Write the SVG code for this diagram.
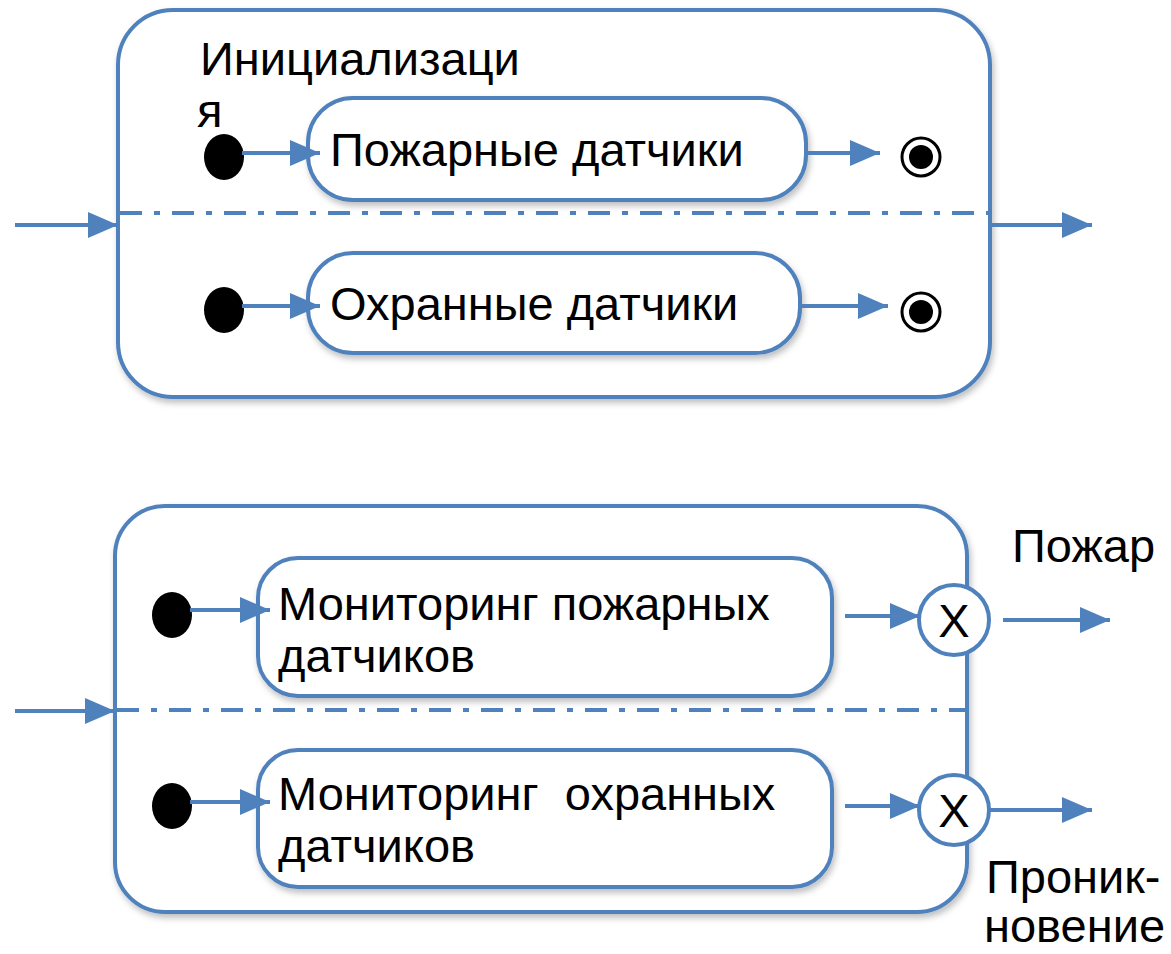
<svg xmlns="http://www.w3.org/2000/svg" width="1171" height="954" viewBox="0 0 1171 954">
<defs>
<style>
.box{fill:#fff;stroke:#4F81BD;stroke-width:4;filter:url(#sh)}
.ln{stroke:#4F81BD;stroke-width:4;fill:none}
.dd{stroke:#4F81BD;stroke-width:4;fill:none;stroke-dasharray:22 12 6 12}
.arr{stroke:#4F81BD;stroke-width:4;fill:none;marker-end:url(#ah)}
.t{font-family:"Liberation Sans",Arial,sans-serif;font-size:47px;fill:#000}
</style>
<filter id="sh" x="-10%" y="-10%" width="120%" height="130%">
<feDropShadow dx="2" dy="4" stdDeviation="3" flood-color="#000" flood-opacity="0.25"/>
</filter>
<marker id="ah" markerUnits="userSpaceOnUse" markerWidth="32" markerHeight="26" refX="30" refY="13" orient="auto">
<path d="M0,0 L30,13 L0,26 Z" fill="#4F81BD"/>
</marker>
</defs>
<g id="container-init">
<rect class="box" x="118" y="10" width="872" height="387" rx="55"/>
<text class="t" x="200" y="75">Инициализаци</text>
<text class="t" x="197" y="127">я</text>
<line class="dd" x1="120" y1="213" x2="988" y2="213"/>
</g>
<g id="init-fire">
<rect class="box" x="308" y="98" width="498" height="102" rx="45"/>
<text class="t" x="330" y="166">Пожарные датчики</text>
</g>
<g id="init-security">
<rect class="box" x="308" y="253" width="492" height="100" rx="45"/>
<text class="t" x="330" y="320">Охранные датчики</text>
</g>
<g id="start1"><ellipse cx="224" cy="157" rx="20" ry="23" fill="#000"/></g>
<g id="start2"><ellipse cx="224" cy="310" rx="20" ry="23" fill="#000"/></g>
<g id="end1"><circle cx="921" cy="157" r="19" fill="#fff" stroke="#000" stroke-width="3"/><circle cx="921" cy="157" r="12" fill="#000"/></g>
<g id="end2"><circle cx="921" cy="312" r="19" fill="#fff" stroke="#000" stroke-width="3"/><circle cx="921" cy="312" r="12" fill="#000"/></g>

<g id="container-monitor">
<rect class="box" x="115" y="506" width="852" height="406" rx="50"/>
<line class="dd" x1="117" y1="710" x2="965" y2="710"/>
</g>
<g id="mon-fire">
<rect class="box" x="258" y="558" width="574" height="138" rx="40"/>
<text class="t" x="278" y="620">Мониторинг пожарных</text>
<text class="t" x="278" y="672">датчиков</text>
</g>
<g id="mon-security">
<rect class="box" x="258" y="750" width="574" height="137" rx="40"/>
<text class="t" x="278" y="810" xml:space="preserve">Мониторинг  охранных</text>
<text class="t" x="278" y="862">датчиков</text>
</g>
<g id="start3"><ellipse cx="172" cy="615" rx="20" ry="23" fill="#000"/></g>
<g id="start4"><ellipse cx="172" cy="806" rx="20" ry="23" fill="#000"/></g>
<g id="x1">
<circle cx="954" cy="620" r="35" fill="#fff" stroke="#4F81BD" stroke-width="4"/>
<text class="t" x="954" y="637" text-anchor="middle">X</text>
</g>
<g id="x2">
<circle cx="954" cy="810" r="35" fill="#fff" stroke="#4F81BD" stroke-width="4"/>
<text class="t" x="954" y="827" text-anchor="middle">X</text>
</g>
<g id="labels">
<text class="t" x="1012" y="562">Пожар</text>
<text class="t" x="986" y="893">Проник-</text>
<text class="t" x="984" y="942">новение</text>
</g>
<g id="connectors">
<line class="arr" x1="15" y1="225" x2="118" y2="225"/>
<line class="arr" x1="990" y1="225" x2="1092" y2="225"/>
<line class="arr" x1="242" y1="153" x2="320" y2="153"/>
<line class="arr" x1="806" y1="153" x2="880" y2="153"/>
<line class="arr" x1="242" y1="306" x2="320" y2="306"/>
<line class="arr" x1="800" y1="306" x2="888" y2="306"/>
<line class="arr" x1="15" y1="711" x2="115" y2="711"/>
<line class="arr" x1="190" y1="610" x2="270" y2="610"/>
<line class="arr" x1="190" y1="802" x2="270" y2="802"/>
<line class="arr" x1="845" y1="616" x2="920" y2="616"/>
<line class="arr" x1="845" y1="806" x2="920" y2="806"/>
<line class="arr" x1="1003" y1="620" x2="1110" y2="620"/>
<line class="arr" x1="990" y1="810" x2="1092" y2="810"/>
</g>
</svg>
